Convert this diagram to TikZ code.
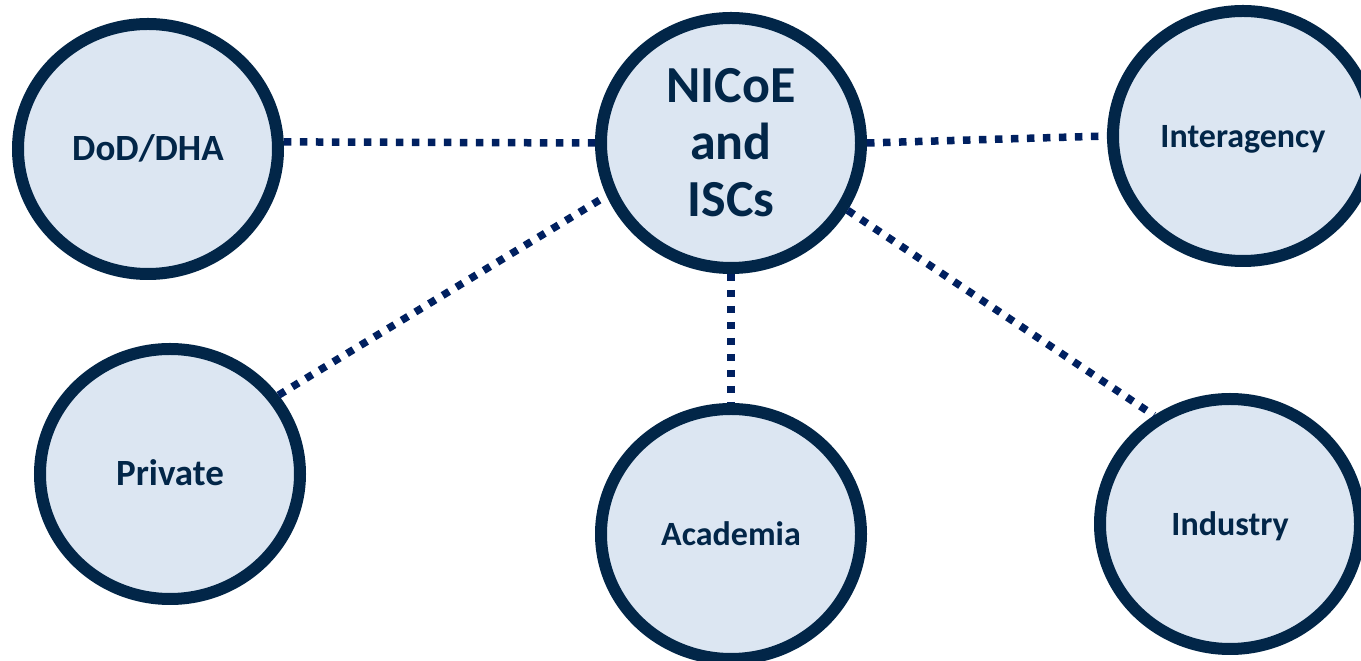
\documentclass[tikz,border=0pt]{standalone}
\usepackage{fontspec}
\setmainfont{Carlito}
\usetikzlibrary{shapes.geometric}
\definecolor{ringcol}{RGB}{2,38,72}
\definecolor{dotcol}{RGB}{0,32,96}
\definecolor{fillcol}{RGB}{220,230,242}
\tikzset{
  x=1pt, y=1pt,
  ring/.style={ellipse, draw=ringcol, fill=fillcol, line width=12pt,
    minimum width=260pt, minimum height=250pt, inner sep=0pt, text=ringcol},
  bubble/.style={ring, font=\fontsize{#1}{42}\selectfont\bfseries,
    text height=23pt, text depth=0pt},
  bigbubble/.style={ring, font=\fontsize{52}{57}\selectfont\bfseries,
    align=center},
  link/.style={draw=dotcol, line width=7.5pt, dash pattern=on 7.5pt off 8.5pt}
}
\begin{document}
\begin{tikzpicture}
\useasboundingbox (0,0) rectangle (1361,661);
\node[bubble=37] (dod) at (148,512) {DoD/DHA};
\node[bigbubble] (nic) at (731,518) {NICoE\\and\\ISCs};
\node[bubble=34] (inter) at (1243,525) {Interagency};
\node[bubble=37] (priv) at (170,187) {Private};
\node[bubble=34] (acad) at (731,127) {Academia};
\node[bubble=34] (ind) at (1230,137) {Industry};
\draw[link] (dod.3) -- (nic.180);
\draw[link] (nic.0) -- (inter.180);
\draw[link] (priv.36) -- (nic.203);
\draw[link] (nic.-30) -- (ind.125);
\draw[link] (nic.south) -- (acad.north);
\end{tikzpicture}
\end{document}
